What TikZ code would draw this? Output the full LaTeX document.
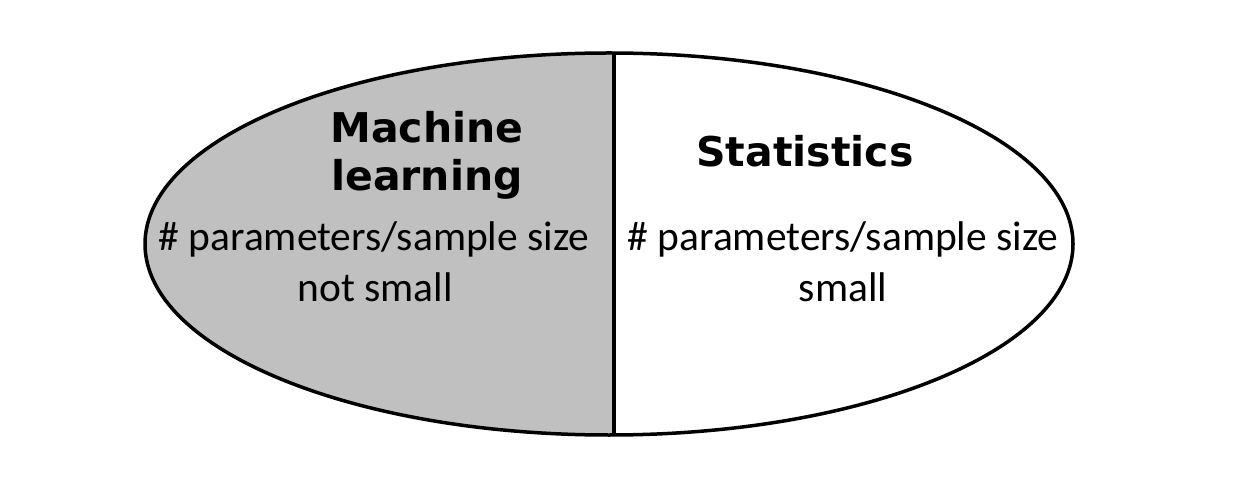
\documentclass[tikz,border=0pt]{standalone}
\usepackage{fontspec}
\newfontfamily\headfont{DejaVu Sans}
\newfontfamily\bodyfont{Carlito}
\definecolor{mlgrey}{HTML}{C0C0C0}
\begin{document}
\begin{tikzpicture}[x=1pt,y=-1pt,
  head/.style={font=\headfont\bfseries\fontsize{41}{48}\selectfont, align=center, inner sep=0pt, anchor=base},
  body/.style={font=\bodyfont\fontsize{41.5}{51}\selectfont, align=center, inner sep=0pt, anchor=base},
  outline/.style={line width=3.5pt, draw=black}]
\useasboundingbox (0,0) rectangle (1236,502);
\begin{scope}
  \clip (609,244) ellipse [x radius=464, y radius=191];
  \fill[mlgrey] (100,40) rectangle (614,450);
  \fill[white] (614,40) rectangle (1100,450);
\end{scope}
\draw[outline] (609,244) ellipse [x radius=464, y radius=191];
\coordinate (top) at (614,53);
\coordinate (bot) at (614,435);
\draw[outline] (top) -- (bot);
\node[head] (ml1) at (427,143) {Machine};
\node[head] (ml2) at (427,191) {learning};
\node[head] (st) at (805,167) {Statistics};
\node[body] (l1) at (374,251) {\# parameters/sample size};
\node[body] (l2) at (375,302) {not small};
\node[body] (r1) at (843,251) {\# parameters/sample size};
\node[body] (r2) at (843,302) {small};
\end{tikzpicture}
\end{document}
